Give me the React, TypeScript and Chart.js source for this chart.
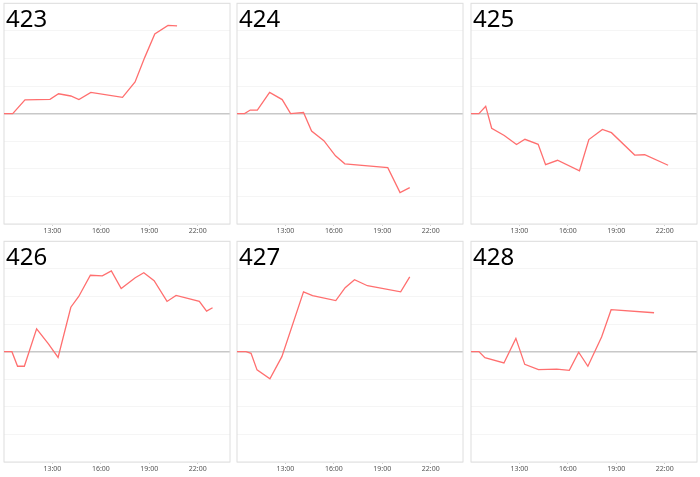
import React, { useEffect, useRef } from "react";
import { Chart, registerables } from "chart.js";

Chart.register(...registerables);

// hours of day (decimal) and values for each small chart
const hours423 = [10, 10.54, 11.3, 12.85, 13.38, 14.14, 14.64, 15.38, 17.34, 18.12, 18.72, 19.34, 20.16, 20.72];
const values423 = [0, 0, 0.5, 0.52, 0.72, 0.64, 0.51, 0.77, 0.59, 1.15, 2.04, 2.89, 3.2, 3.18];

const hours424 = [10, 10.47, 10.82, 11.26, 12.02, 12.8, 13.32, 14.12, 14.62, 15.38, 16.1, 16.68, 19.34, 20.1, 20.7];
const values424 = [0, 0, 0.13, 0.13, 0.77, 0.51, 0, 0.04, -0.63, -0.98, -1.53, -1.82, -1.96, -2.86, -2.68];

const hours425 = [10, 10.49, 10.91, 11.28, 12.06, 12.82, 13.34, 14.16, 14.62, 15.36, 16.72, 17.3, 18.14, 18.7, 20.14, 20.76, 22.21];
const values425 = [0, 0, 0.27, -0.53, -0.79, -1.12, -0.93, -1.11, -1.85, -1.69, -2.07, -0.94, -0.57, -0.69, -1.5, -1.49, -1.87];

const hours426 = [10, 10.49, 10.84, 11.26, 12.02, 12.74, 13.35, 14.14, 14.63, 15.35, 16.09, 16.65, 17.26, 18.13, 18.66, 19.3, 20.1, 20.66, 22.1, 22.55, 22.92];
const values426 = [0, 0, -0.53, -0.53, 0.83, 0.29, -0.21, 1.61, 2.0, 2.77, 2.75, 2.93, 2.29, 2.68, 2.86, 2.57, 1.82, 2.04, 1.82, 1.47, 1.59];

const hours427 = [10, 10.56, 10.87, 11.24, 12.04, 12.78, 14.12, 14.68, 16.12, 16.7, 17.28, 18.08, 20.14, 20.7];
const values427 = [0, 0, -0.06, -0.66, -0.98, -0.18, 2.17, 2.03, 1.85, 2.32, 2.61, 2.39, 2.17, 2.71];

const hours428 = [10, 10.49, 10.86, 12.04, 12.78, 13.33, 14.18, 15.31, 16.09, 16.67, 17.24, 18.09, 18.68, 21.34];
const values428 = [0, 0, -0.22, -0.41, 0.48, -0.46, -0.65, -0.63, -0.68, -0.02, -0.53, 0.53, 1.52, 1.41];

const titles = ["423", "424", "425", "426", "427", "428"];
const tickHours = [13, 16, 19, 22];

const panels = [
  { title: titles[0], hours: hours423, values: values423 },
  { title: titles[1], hours: hours424, values: values424 },
  { title: titles[2], hours: hours425, values: values425 },
  { title: titles[3], hours: hours426, values: values426 },
  { title: titles[4], hours: hours427, values: values427 },
  { title: titles[5], hours: hours428, values: values428 },
];

const frame = {
  id: "frame",
  beforeDatasetsDraw(chart: any) {
    const { ctx, chartArea } = chart;
    ctx.save();
    ctx.strokeStyle = "#dedede";
    ctx.lineWidth = 1;
    ctx.strokeRect(chartArea.left, chartArea.top, chartArea.right - chartArea.left, chartArea.bottom - chartArea.top);
    ctx.restore();
  },
};

const Panel = ({ title, hours, values, left, top }: any) => {
  const chartRef: any = useRef(null);
  const chartInstance: any = useRef(null);

  useEffect(() => {
    const ctx = chartRef.current.getContext("2d");
    chartInstance.current = new Chart(ctx, {
      type: "line",
      data: {
        datasets: [
          {
            data: hours.map((h: number, i: number) => ({ x: h, y: values[i] })),
            borderColor: "#ff6f6f",
            borderWidth: 1.3,
            pointRadius: 0,
            tension: 0,
            fill: false,
          },
        ],
      },
      options: {
        animation: false,
        responsive: true,
        maintainAspectRatio: false,
        layout: { padding: { left: 4, top: 3.3, right: 3, bottom: 0 } },
        plugins: { legend: { display: false }, tooltip: { enabled: false } },
        scales: {
          x: {
            type: "linear",
            min: 10,
            max: 24,
            afterBuildTicks: (scale: any) => {
              scale.ticks = tickHours.map((v) => ({ value: v }));
            },
            afterFit: (scale: any) => {
              scale.height = 14;
            },
            ticks: {
              callback: (v: any) => `${v}:00`,
              font: { family: "Noto Sans", size: 7 },
              color: "#555",
              padding: 1,
              maxRotation: 0,
            },
            grid: { drawOnChartArea: false, drawTicks: true, tickLength: 2, color: "#cfcfcf" },
            border: { display: false },
          },
          y: {
            min: -4,
            max: 4,
            ticks: { display: false, stepSize: 1 },
            afterFit: (scale: any) => {
              scale.width = 0;
            },
            grid: {
              drawTicks: false,
              color: (c: any) => (c.tick && c.tick.value === 0 ? "#c8c8c8" : "#f5f5f5"),
              lineWidth: (c: any) => (c.tick && c.tick.value === 0 ? 1.6 : 1),
            },
            border: { display: false },
          },
        },
      },
      plugins: [frame],
    });

    return () => {
      if (chartInstance.current) {
        chartInstance.current.destroy();
      }
    };
  }, [hours, values]);

  return (
    <div style={{ position: "absolute", left, top, width: 233, height: 238 }}>
      <canvas ref={chartRef}></canvas>
      <div
        style={{
          position: "absolute",
          left: 6,
          top: 5.5,
          fontFamily: "Noto Sans",
          fontSize: 24,
          lineHeight: "24px",
          color: "#000",
          pointerEvents: "none",
        }}
      >
        {title}
      </div>
    </div>
  );
};

const App = () => {
  return (
    <div style={{ position: "absolute", left: 0, top: 0, width: 700, height: 477, background: "#fff" }}>
      {panels.map((p, i) => (
        <Panel
          key={p.title}
          title={p.title}
          hours={p.hours}
          values={p.values}
          left={Math.round((i % 3) * 233.4)}
          top={Math.floor(i / 3) * 238}
        />
      ))}
    </div>
  );
};

export default App;
